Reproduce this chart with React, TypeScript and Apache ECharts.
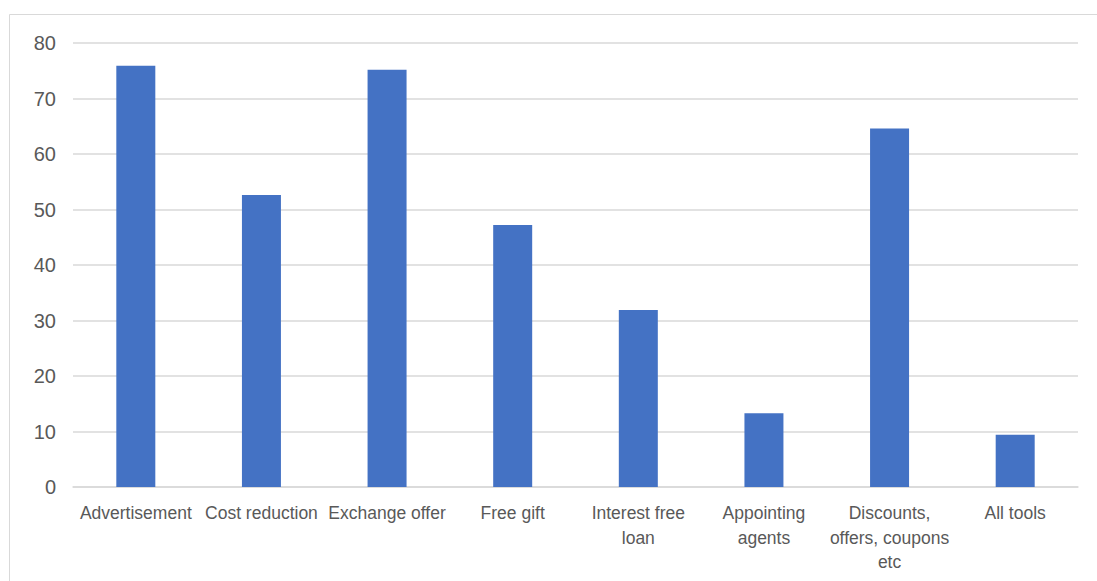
import React, { useEffect, useRef } from "react";
import * as echarts from "echarts";

const categories = [
  "Advertisement",
  "Cost reduction",
  "Exchange offer",
  "Free gift",
  "Interest free\nloan",
  "Appointing\nagents",
  "Discounts,\noffers, coupons\netc",
  "All tools",
];
const values = [75.9, 52.6, 75.2, 47.2, 31.9, 13.3, 64.6, 9.4];
const yTicks = { min: 0, max: 80, interval: 10 };

export default function App() {
  const ref = useRef<HTMLDivElement>(null);
  useEffect(() => {
    document.body.style.margin = "0";
    const chart = echarts.init(ref.current!, null, { renderer: "svg" });
    chart.setOption({
      animation: false,
      backgroundColor: "#ffffff",
      graphic: [
        {
          type: "rect",
          shape: { x: 9.5, y: 14.5, width: 1200, height: 700 },
          style: { fill: "none", stroke: "#d9d9d9", lineWidth: 1 },
          silent: true,
        },
      ],
      grid: { left: 73, right: 19, top: 43, bottom: 94, containLabel: false },
      xAxis: {
        type: "category",
        data: categories,
        axisLine: { show: true, lineStyle: { color: "#d9d9d9", width: 1.5 } },
        axisTick: { show: false },
        axisLabel: {
          interval: 0,
          color: "#595959",
          fontFamily: "'Liberation Sans', Arial, sans-serif",
          fontSize: 17.5,
          lineHeight: 24.5,
          margin: 14,
        },
      },
      yAxis: {
        type: "value",
        min: yTicks.min,
        max: yTicks.max,
        interval: yTicks.interval,
        axisLine: { show: false },
        axisTick: { show: false },
        splitLine: { lineStyle: { color: "#d9d9d9", width: 1.5 } },
        axisLabel: {
          color: "#595959",
          fontFamily: "'Liberation Sans', Arial, sans-serif",
          fontSize: 20,
          margin: 17,
        },
      },
      series: [
        {
          type: "bar",
          data: values,
          barWidth: 39,
          itemStyle: { color: "#4472c4" },
        },
      ],
    });
    return () => chart.dispose();
  }, []);
  return <div ref={ref} style={{ width: 1097, height: 581 }} />;
}
